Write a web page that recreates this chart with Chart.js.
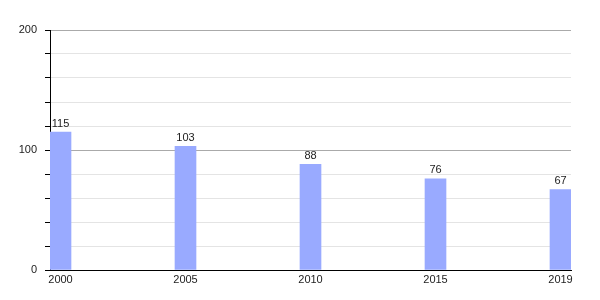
<!DOCTYPE html>
<html>
<head>
<meta charset="utf-8">
<script src="https://cdn.jsdelivr.net/npm/chart.js@4/dist/chart.umd.min.js"></script>
<style>
  html, body { margin: 0; padding: 0; background: #fff; }
  #wrap { width: 600px; height: 300px; }
</style>
</head>
<body>
<div id="wrap"><canvas id="chart"></canvas></div>
<script>
/* ================= DATA ================= */
const years = ["2000", "2005", "2010", "2015", "2019"];
const values = [115, 103, 88, 76, 67];
const yLabels = [0, 100, 200];

const FONT = { family: "'Liberation Sans', Arial, sans-serif", size: 11 };

/* value labels above each bar */
const barLabels = {
  id: "barLabels",
  afterDatasetsDraw(chart) {
    const ctx = chart.ctx;
    const meta = chart.getDatasetMeta(0);
    ctx.save();
    ctx.font = `${FONT.size}px ${FONT.family}`;
    ctx.fillStyle = "#222";
    ctx.textAlign = "center";
    ctx.textBaseline = "bottom";
    meta.data.forEach((bar, i) => {
      ctx.fillText(values[i], bar.x, bar.y - 3);
    });
    ctx.restore();
  }
};

new Chart(document.getElementById("chart"), {
  type: "bar",
  data: {
    datasets: [{
      data: values.map((v, i) => ({ x: i, y: v })),
      backgroundColor: "#99aaff",
      barThickness: 21
    }]
  },
  options: {
    responsive: true,
    maintainAspectRatio: false,
    animation: false,
    layout: { padding: { top: 30, right: 29, left: 0, bottom: 0 } },
    plugins: { legend: { display: false }, tooltip: { enabled: false } },
    scales: {
      x: {
        type: "linear",
        offset: false,
        min: -10.5 / 125,
        max: 4 + 10.5 / 125,
        afterBuildTicks: axis => { axis.ticks = years.map((y, i) => ({ value: i })); },
        afterFit: axis => { axis.height = 30; },
        grid: { display: false, drawTicks: false, offset: false },
        border: { display: true, color: "#000", width: 1 },
        ticks: {
          autoSkip: false,
          maxRotation: 0,
          padding: 3,
          color: "#222",
          font: FONT,
          callback: v => years[v]
        }
      },
      y: {
        min: 0,
        max: 200,
        afterFit: axis => { axis.width = 50; },
        grid: {
          color: c => (c.tick.value % 100 === 0 ? "#aaaaaa" : "#e4e4e4"),
          tickColor: "#000",
          tickLength: 5
        },
        border: { display: true, color: "#000", width: 1 },
        ticks: {
          stepSize: 20,
          padding: 8,
          color: "#222",
          font: FONT,
          callback: v => (yLabels.includes(v) ? v : "")
        }
      }
    }
  },
  plugins: [barLabels]
});
</script>
</body>
</html>
